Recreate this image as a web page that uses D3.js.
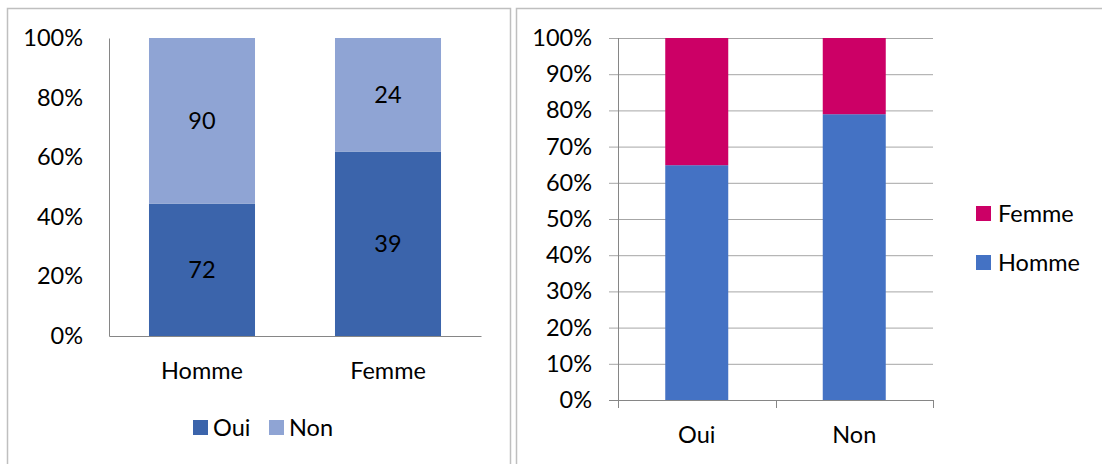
<!DOCTYPE html>
<html>
<head>
<meta charset="utf-8">
<script src="https://cdn.jsdelivr.net/npm/d3@7"></script>
<style>
  body { margin: 0; background: #fff; }
  text { font-family: Lato, "Open Sans", sans-serif; fill: #000; }
</style>
</head>
<body>
<div id="chart"></div>
<script>
'use strict';

// left chart: answers by sex
var leftCategories = ['Homme', 'Femme'];
var ouiCounts = [72, 39];
var nonCounts = [90, 24];
var leftSeries = ['Oui', 'Non'];
var leftTicks = [0, 0.2, 0.4, 0.6, 0.8, 1];

// right chart: sex by answer
var rightCategories = ['Oui', 'Non'];
var hommeCounts = [72, 90];
var femmeCounts = [39, 24];
var rightSeries = ['Homme', 'Femme'];
var rightTicks = [0, 0.1, 0.2, 0.3, 0.4, 0.5, 0.6, 0.7, 0.8, 0.9, 1];

var width = 1102, height = 464;
var fontSize = 23.5;
var pct = d3.format('.0%');

var svg = d3.select('#chart')
            .append('svg')
            .attr('width', width)
            .attr('height', height);

// frames
svg.append('rect')
   .attr('x', 7.5).attr('y', 8.5)
   .attr('width', 503).attr('height', 470)
   .attr('fill', 'none')
   .attr('stroke', '#bfbfbf')
   .attr('stroke-width', 1.5);

svg.append('rect')
   .attr('x', 516.5).attr('y', 8.5)
   .attr('width', 600).attr('height', 470)
   .attr('fill', 'none')
   .attr('stroke', '#bfbfbf')
   .attr('stroke-width', 1.5);

var stackRows = function(categories, series, columns) {
  return categories.map(function(c, i) {
    var row = { cat: c };
    series.forEach(function(s, j) { row[s] = columns[j][i]; });
    return row;
  });
};

// ---------- Left chart ----------

var leftColors = d3.scaleOrdinal().domain(leftSeries).range(['#3b64ab', '#8fa4d4']);
var leftRows = stackRows(leftCategories, leftSeries, [ouiCounts, nonCounts]);
var leftStack = d3.stack().keys(leftSeries).offset(d3.stackOffsetExpand)(leftRows);

var xL = d3.scaleBand().domain(leftCategories).range([109, 481])
           .paddingInner(0.43).paddingOuter(0.215);
var yL = d3.scaleLinear().domain([0, 1]).range([336, 38]);

var gL = svg.append('g');

gL.selectAll('g.layer')
  .data(leftStack)
  .join('g')
  .attr('class', 'layer')
  .attr('fill', function(d) { return leftColors(d.key); })
  .each(function(layer) {
    var g = d3.select(this);
    g.selectAll('rect')
     .data(layer)
     .join('rect')
     .attr('x', function(d) { return xL(d.data.cat); })
     .attr('width', xL.bandwidth())
     .attr('y', function(d) { return yL(d[1]); })
     .attr('height', function(d) { return yL(d[0]) - yL(d[1]); });
    g.selectAll('text')
     .data(layer)
     .join('text')
     .attr('x', function(d) { return xL(d.data.cat) + xL.bandwidth() / 2; })
     .attr('y', function(d) { return (yL(d[0]) + yL(d[1])) / 2; })
     .attr('dy', '0.35em')
     .attr('text-anchor', 'middle')
     .style('font-size', fontSize + 'px')
     .text(function(d) { return d.data[layer.key]; });
  });

// Left axes
gL.append('g')
  .attr('transform', 'translate(109,0)')
  .call(d3.axisLeft(yL).tickValues(leftTicks).tickFormat(pct).tickSize(0).tickPadding(26))
  .call(function(g) { g.select('.domain').attr('stroke', '#868686'); })
  .selectAll('text').style('font-size', fontSize + 'px').attr('fill', '#000');

gL.append('g')
  .attr('transform', 'translate(0,336)')
  .call(d3.axisBottom(xL).tickSize(0).tickPadding(26))
  .call(function(g) { g.select('.domain').attr('stroke', '#868686'); })
  .selectAll('text').style('font-size', fontSize + 'px').attr('fill', '#000');

// Left legend
var legL = gL.append('g').attr('transform', 'translate(193,420)');
var legLItems = legL.selectAll('g')
                    .data(leftSeries)
                    .join('g')
                    .attr('transform', function(d, i) { return 'translate(' + (i * 76) + ',0)'; });
legLItems.append('rect')
         .attr('width', 15).attr('height', 15)
         .attr('fill', function(d) { return leftColors(d); });
legLItems.append('text')
         .attr('x', 20).attr('y', 7.5).attr('dy', '0.35em')
         .style('font-size', fontSize + 'px')
         .text(function(d) { return d; });

// ---------- Right chart ----------

var rightColors = d3.scaleOrdinal().domain(rightSeries).range(['#4472c4', '#cc0066']);
var rightRows = stackRows(rightCategories, rightSeries, [hommeCounts, femmeCounts]);
var rightStack = d3.stack().keys(rightSeries).offset(d3.stackOffsetExpand)(rightRows);

var xR = d3.scaleBand().domain(rightCategories).range([618, 933])
           .paddingInner(0.6).paddingOuter(0.3);
var yR = d3.scaleLinear().domain([0, 1]).range([400, 38]);

var gR = svg.append('g');

// gridlines + tick labels
gR.append('g')
  .attr('transform', 'translate(933,0)')
  .call(d3.axisLeft(yR).tickValues(rightTicks).tickFormat(pct).tickSize(324).tickPadding(17))
  .call(function(g) {
    g.select('.domain').remove();
    g.selectAll('line').attr('stroke', '#a6a6a6');
  })
  .selectAll('text').style('font-size', fontSize + 'px').attr('fill', '#000');

gR.selectAll('g.layer')
  .data(rightStack)
  .join('g')
  .attr('class', 'layer')
  .attr('fill', function(d) { return rightColors(d.key); })
  .selectAll('rect')
  .data(function(d) { return d; })
  .join('rect')
  .attr('x', function(d) { return xR(d.data.cat); })
  .attr('width', xR.bandwidth())
  .attr('y', function(d) { return yR(d[1]); })
  .attr('height', function(d) { return yR(d[0]) - yR(d[1]); });

// y axis line
gR.append('line')
  .attr('x1', 618.5).attr('x2', 618.5)
  .attr('y1', yR(1)).attr('y2', yR(0))
  .attr('stroke', '#868686');

// x axis with category boundary ticks
var boundaries = rightCategories.map(function(c) {
  return xR(c) - xR.step() * xR.paddingOuter();
}).concat([xR.range()[1]]);

gR.append('line')
  .attr('x1', 609).attr('x2', 933)
  .attr('y1', yR(0) + 0.5).attr('y2', yR(0) + 0.5)
  .attr('stroke', '#868686');

gR.selectAll('line.bound')
  .data(boundaries)
  .join('line')
  .attr('class', 'bound')
  .attr('x1', function(d) { return Math.round(d) + 0.5; })
  .attr('x2', function(d) { return Math.round(d) + 0.5; })
  .attr('y1', yR(0)).attr('y2', yR(0) + 8)
  .attr('stroke', '#868686');

gR.append('g')
  .attr('transform', 'translate(0,400)')
  .call(d3.axisBottom(xR).tickSize(0).tickPadding(26))
  .call(function(g) { g.select('.domain').remove(); })
  .selectAll('text').style('font-size', fontSize + 'px').attr('fill', '#000');

// Right legend (Femme on top)
var legR = gR.append('g').attr('transform', 'translate(976,206)');
var legRItems = legR.selectAll('g')
                    .data(rightSeries.slice().reverse())
                    .join('g')
                    .attr('transform', function(d, i) { return 'translate(0,' + (i * 49) + ')'; });
legRItems.append('rect')
         .attr('width', 15).attr('height', 15)
         .attr('fill', function(d) { return rightColors(d); });
legRItems.append('text')
         .attr('x', 22).attr('y', 7.5).attr('dy', '0.35em')
         .style('font-size', fontSize + 'px')
         .text(function(d) { return d; });
</script>
</body>
</html>
